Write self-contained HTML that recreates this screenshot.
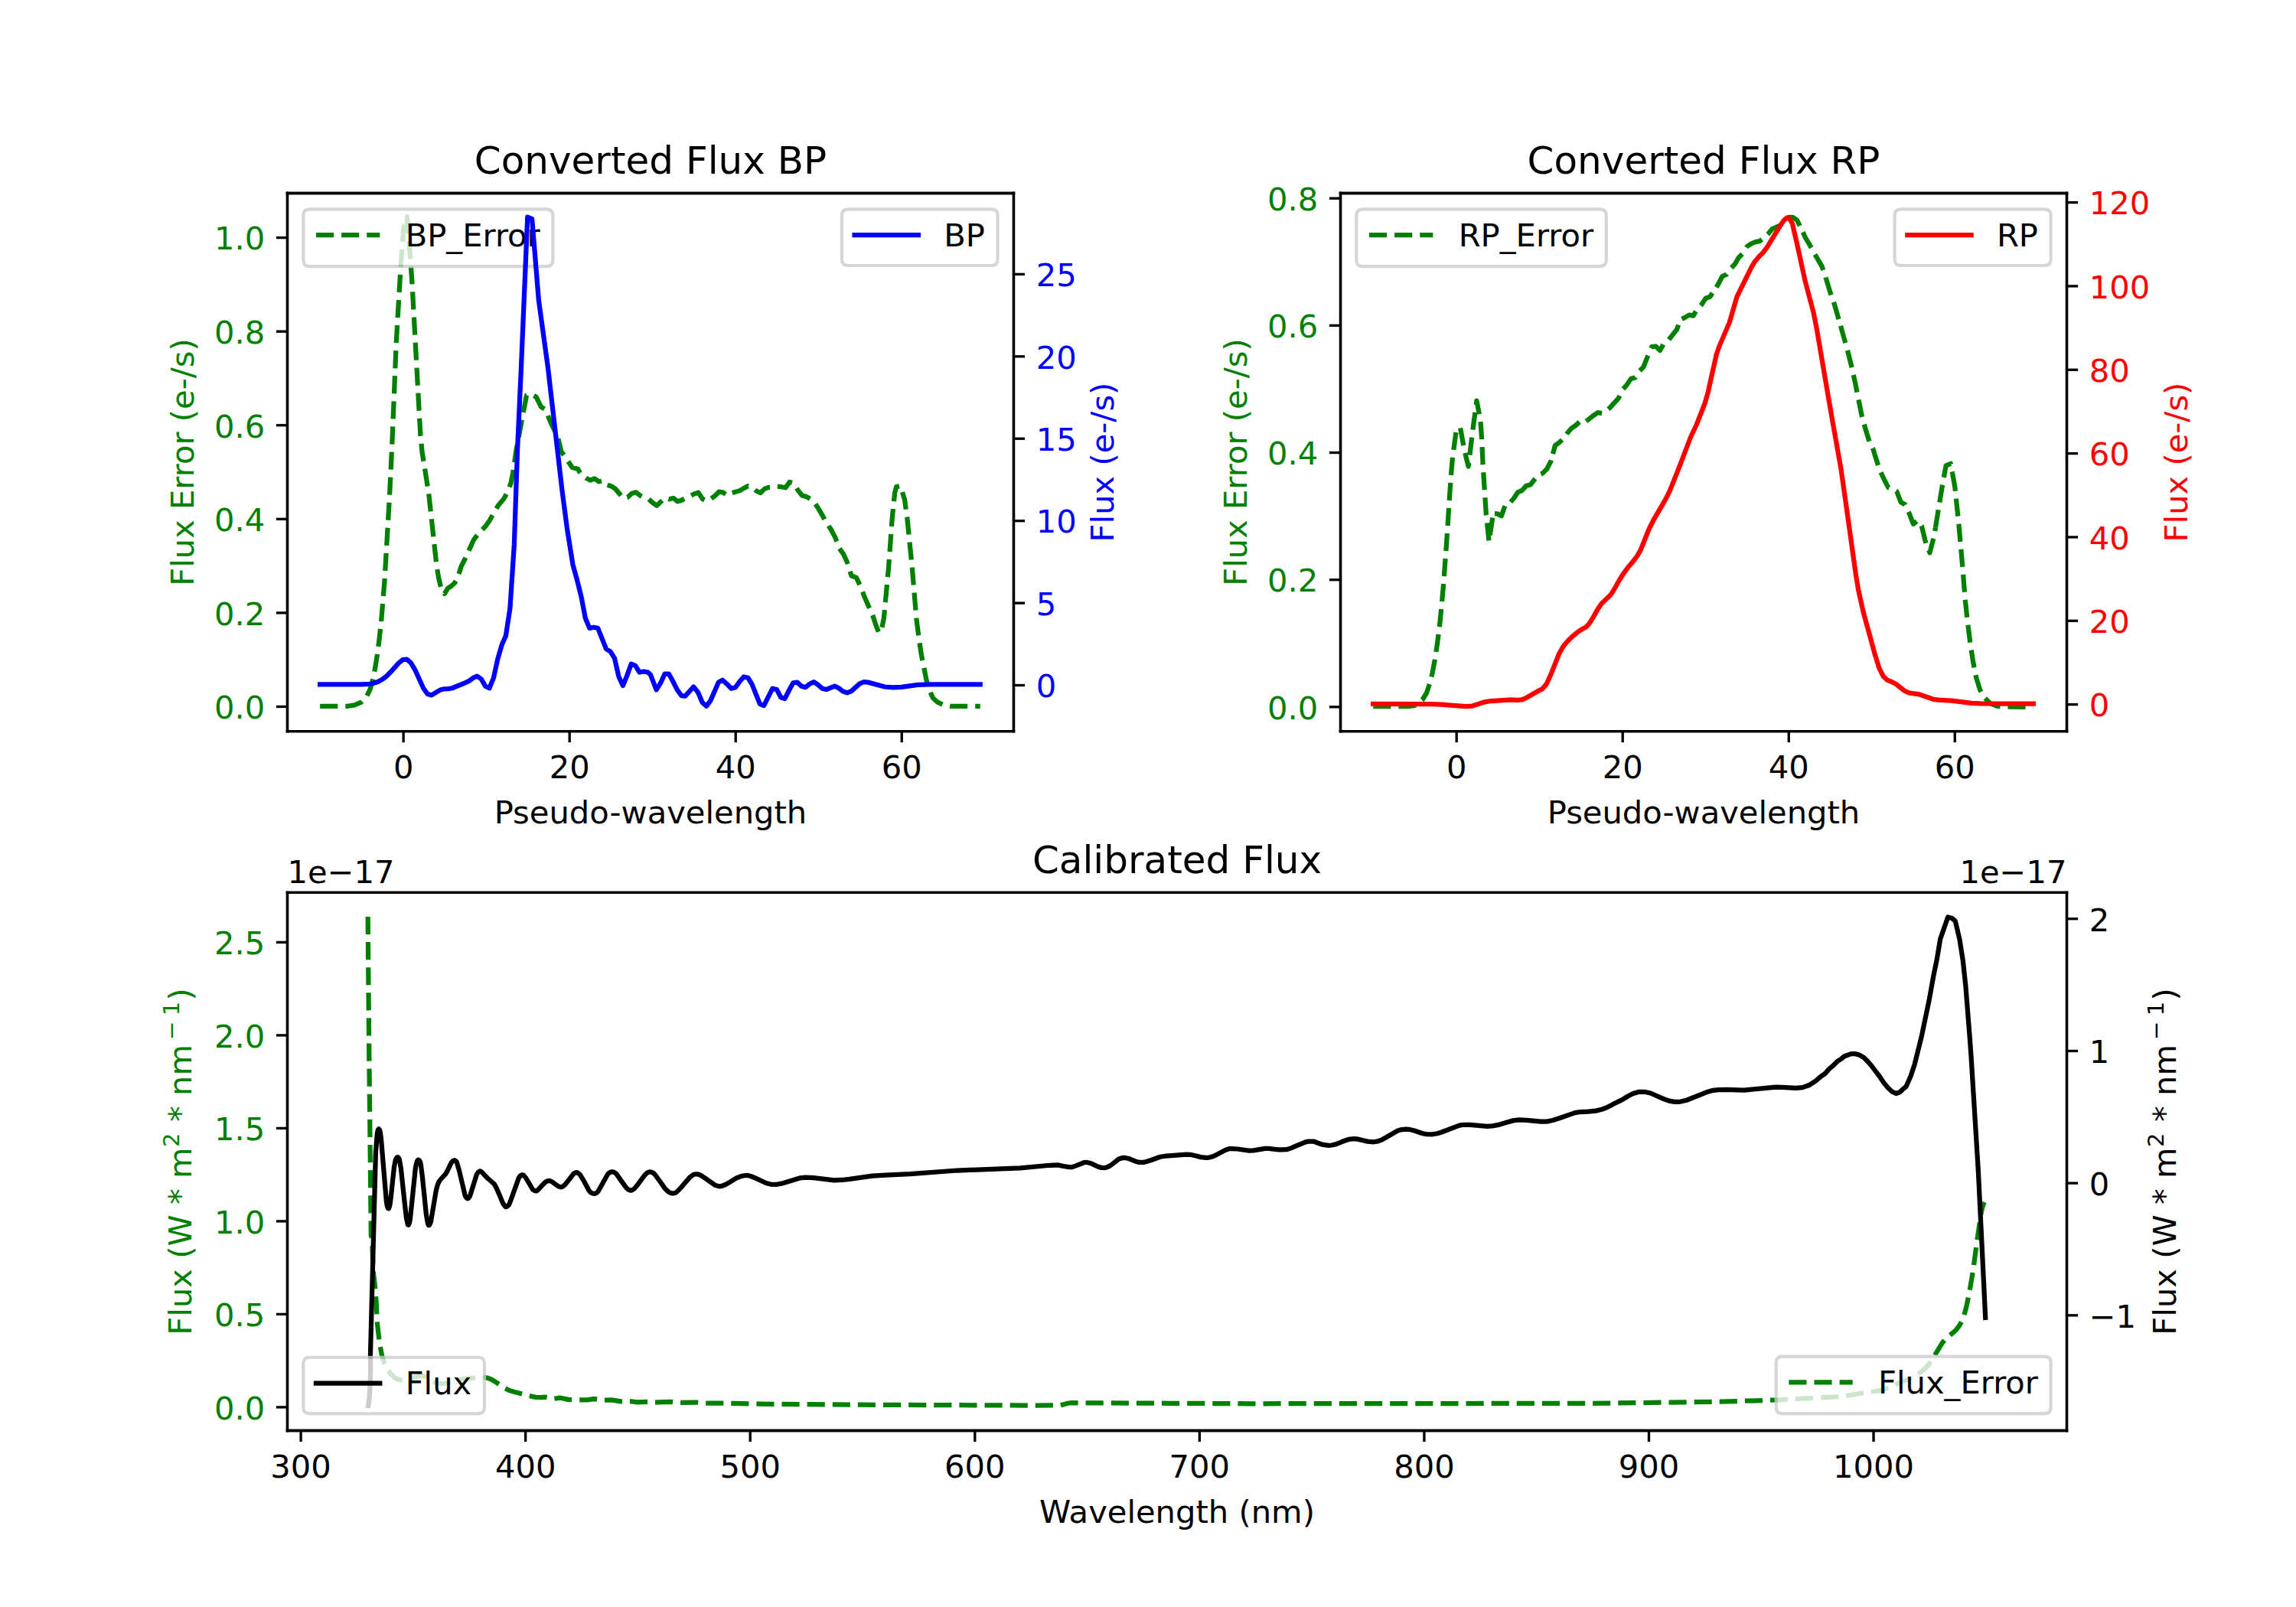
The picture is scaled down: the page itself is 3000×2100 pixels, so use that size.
<!DOCTYPE html>
<html><head><meta charset="utf-8"><title>Gaia XP spectra</title>
<style>html,body{margin:0;padding:0;background:#fff}svg{display:block}</style></head>
<body>
<svg width="3000" height="2100" viewBox="0 0 720 504"><g transform="translate(0.12 0.12)">
<defs>
<style type="text/css">*{stroke-linejoin: round; stroke-linecap: butt}</style>
</defs>
<g id="figure_1">
<g id="patch_1">
<path d="M 0 504 L 720 504 L 720 0 L 0 0 z
" style="fill: #ffffff"/>
</g>
<g id="axes_1">
<g id="patch_2">
<path d="M 90 229.210435 L 317.755102 229.210435 L 317.755102 60.48 L 90 60.48 z
" style="fill: #ffffff"/>
</g>
<g id="matplotlib.axis_1">
<g id="xtick_1">
<g id="line2d_1">
<defs>
<path id="m22d8541378" d="M 0 0 L 0 3.5 
" style="stroke: #000000; stroke-width: 0.8"/>
</defs>
<g>
<use href="#m22d8541378" x="126.396541" y="229.210435" style="stroke: #000000; stroke-width: 0.8"/>
</g>
</g>
<g id="text_1">
<text style="font-size: 10px; font-family: 'DejaVu Sans', sans-serif; text-anchor: middle" x="126.396541" y="243.978872" transform="rotate(-0 126.396541 243.978872)">0</text>
</g>
</g>
<g id="xtick_2">
<g id="line2d_2">
<g>
<use href="#m22d8541378" x="178.484615" y="229.210435" style="stroke: #000000; stroke-width: 0.8"/>
</g>
</g>
<g id="text_2">
<text style="font-size: 10px; font-family: 'DejaVu Sans', sans-serif; text-anchor: middle" x="178.484615" y="243.978872" transform="rotate(-0 178.484615 243.978872)">20</text>
</g>
</g>
<g id="xtick_3">
<g id="line2d_3">
<g>
<use href="#m22d8541378" x="230.572689" y="229.210435" style="stroke: #000000; stroke-width: 0.8"/>
</g>
</g>
<g id="text_3">
<text style="font-size: 10px; font-family: 'DejaVu Sans', sans-serif; text-anchor: middle" x="230.572689" y="243.978872" transform="rotate(-0 230.572689 243.978872)">40</text>
</g>
</g>
<g id="xtick_4">
<g id="line2d_4">
<g>
<use href="#m22d8541378" x="282.660762" y="229.210435" style="stroke: #000000; stroke-width: 0.8"/>
</g>
</g>
<g id="text_4">
<text style="font-size: 10px; font-family: 'DejaVu Sans', sans-serif; text-anchor: middle" x="282.660762" y="243.978872" transform="rotate(-0 282.660762 243.978872)">60</text>
</g>
</g>
<g id="text_5">
<text style="font-size: 10px; font-family: 'DejaVu Sans', sans-serif; text-anchor: middle" x="203.877551" y="258.156997" transform="rotate(-0 203.877551 258.156997)">Pseudo-wavelength</text>
</g>
</g>
<g id="matplotlib.axis_2">
<g id="ytick_1">
<g id="line2d_5">
<defs>
<path id="md354d0686e" d="M 0 0 L -3.5 0 
" style="stroke: #000000; stroke-width: 0.8"/>
</defs>
<g>
<use href="#md354d0686e" x="90" y="221.509046" style="stroke: #000000; stroke-width: 0.8"/>
</g>
</g>
<g id="text_6">
<text style="font-size: 10px; font-family: 'DejaVu Sans', sans-serif; text-anchor: end; fill: #008000" x="83" y="225.308264" transform="rotate(-0 83 225.308264)">0.0</text>
</g>
</g>
<g id="ytick_2">
<g id="line2d_6">
<g>
<use href="#md354d0686e" x="90" y="192.091975" style="stroke: #000000; stroke-width: 0.8"/>
</g>
</g>
<g id="text_7">
<text style="font-size: 10px; font-family: 'DejaVu Sans', sans-serif; text-anchor: end; fill: #008000" x="83" y="195.891194" transform="rotate(-0 83 195.891194)">0.2</text>
</g>
</g>
<g id="ytick_3">
<g id="line2d_7">
<g>
<use href="#md354d0686e" x="90" y="162.674904" style="stroke: #000000; stroke-width: 0.8"/>
</g>
</g>
<g id="text_8">
<text style="font-size: 10px; font-family: 'DejaVu Sans', sans-serif; text-anchor: end; fill: #008000" x="83" y="166.474123" transform="rotate(-0 83 166.474123)">0.4</text>
</g>
</g>
<g id="ytick_4">
<g id="line2d_8">
<g>
<use href="#md354d0686e" x="90" y="133.257833" style="stroke: #000000; stroke-width: 0.8"/>
</g>
</g>
<g id="text_9">
<text style="font-size: 10px; font-family: 'DejaVu Sans', sans-serif; text-anchor: end; fill: #008000" x="83" y="137.057052" transform="rotate(-0 83 137.057052)">0.6</text>
</g>
</g>
<g id="ytick_5">
<g id="line2d_9">
<g>
<use href="#md354d0686e" x="90" y="103.840762" style="stroke: #000000; stroke-width: 0.8"/>
</g>
</g>
<g id="text_10">
<text style="font-size: 10px; font-family: 'DejaVu Sans', sans-serif; text-anchor: end; fill: #008000" x="83" y="107.639981" transform="rotate(-0 83 107.639981)">0.8</text>
</g>
</g>
<g id="ytick_6">
<g id="line2d_10">
<g>
<use href="#md354d0686e" x="90" y="74.423692" style="stroke: #000000; stroke-width: 0.8"/>
</g>
</g>
<g id="text_11">
<text style="font-size: 10px; font-family: 'DejaVu Sans', sans-serif; text-anchor: end; fill: #008000" x="83" y="78.22291" transform="rotate(-0 83 78.22291)">1.0</text>
</g>
</g>
<g id="text_12">
<text style="font-size: 10px; font-family: 'DejaVu Sans', sans-serif; text-anchor: middle; fill: #008000" x="60.487187" y="144.845217" transform="rotate(-90 60.487187 144.845217)">Flux Error (e-/s)</text>
</g>
</g>
<g id="line2d_11">
<path d="M 100.238881 221.341423 L 108.9671 221.341423 L 111.057691 221.027833 L 113.148283 220.139326 L 114.716226 218.571374 L 115.866052 216.219446 L 116.545494 214.128844 L 117.329466 210.470289 L 118.113437 205.766433 L 118.79288 200.539926 L 119.420057 194.790769 L 120.465353 182.247153 L 122.033296 155.591969 L 122.817268 139.53614 L 124.123888 107.654449 L 125.535037 83.612519 L 126.475803 71.173433 L 127.521099 67.776203 L 128.200541 75.772759 L 129.089042 88.316375 L 131.702282 135.877586 L 132.22493 141.480401 L 134.315521 154.546667 L 136.824231 177.543297 L 137.451408 181.201852 L 138.23538 184.442286 L 139.280676 186.062503 L 140.325971 184.337756 L 141.371267 183.710575 L 142.416563 182.769804 L 143.357329 181.201852 L 144.507154 177.543297 L 145.813774 174.930044 L 148.427013 169.180886 L 149.994957 167.090284 L 152.085548 164.999681 L 153.392168 163.170404 L 154.960111 160.295825 L 156.266731 158.205222 L 157.834675 156.375945 L 159.141294 154.024017 L 160.08206 151.410763 L 160.709238 148.274859 L 161.754534 141.104092 L 164.99495 123.85662 L 166.19704 123.4385 L 168.026308 124.379271 L 169.594251 127.515175 L 170.900871 128.299151 L 172.730139 132.741682 L 174.82073 136.922887 L 175.866026 141.480401 L 177.433969 143.571003 L 179.263237 146.445582 L 181.092504 146.968233 L 182.1378 148.79751 L 183.69111 149.829223 L 184.997729 150.482536 L 186.304349 149.959885 L 187.610968 150.926789 L 188.891456 150.613199 L 190.198075 151.919825 L 191.504695 152.311813 L 192.811315 153.148054 L 195.398422 156.231693 L 196.705041 155.839705 L 198.011661 154.611476 L 199.318281 154.271753 L 200.6249 155.317055 L 201.93152 155.970368 L 203.238139 156.362356 L 204.518627 157.53832 L 205.825246 158.452959 L 208.438486 155.970368 L 209.745105 156.440754 L 211.025593 156.101031 L 212.332212 157.146332 L 213.638832 156.754344 L 217.558691 154.794404 L 218.86531 154.350151 L 220.17193 156.362356 L 221.452417 157.015669 L 222.759037 156.362356 L 224.065657 155.395452 L 225.372276 154.088825 L 226.678896 154.350151 L 227.959383 155.317055 L 229.266003 154.533079 L 231.879242 153.749103 L 233.185862 152.965127 L 234.492481 152.311813 L 235.772969 152.834464 L 237.079588 153.879765 L 238.386208 154.454681 L 239.692828 153.148054 L 240.999447 152.703801 L 242.284116 152.703801 L 243.590735 152.442476 L 244.897355 152.573139 L 246.203975 152.834464 L 247.484462 151.057452 L 248.791082 151.397175 L 250.097701 153.61844 L 251.404321 155.264789 L 252.71094 155.656778 L 254.01756 156.362356 L 255.298047 157.53832 L 256.604667 159.49826 L 259.217906 164.071453 L 260.524526 166.031393 L 261.831146 168.513984 L 263.111633 171.911213 L 264.418253 173.740491 L 265.552398 176.23667 L 266.859018 180.417876 L 268.426962 181.045056 L 269.733581 183.815105 L 271.040201 187.212334 L 273.65344 193.222817 L 274.698736 196.358721 L 275.482708 198.344794 L 276.266679 197.665348 L 277.050651 193.745468 L 278.514065 178.065948 L 279.663891 162.386428 L 280.447862 154.546667 L 280.97051 152.560595 L 282.27713 152.29927 L 283.583749 156.63727 L 284.367721 162.386428 L 285.935665 178.065948 L 287.242285 193.745468 L 288.026256 200.017276 L 288.810228 205.243782 L 290.378172 213.083542 L 291.266673 216.219446 L 292.468763 218.8327 L 293.775383 220.034796 L 295.865974 221.027833 L 297.956566 221.341423 L 300.569805 221.393688 L 307.259697 221.393688 L 307.259697 221.393688 
" clip-path="url(#p5c25ae56bd)" style="fill: none; stroke-dasharray: 5.55,2.4; stroke-dashoffset: 0; stroke: #008000; stroke-width: 1.5"/>
</g>
<g id="patch_3">
<path d="M 90 229.210435 L 90 60.48 
" style="fill: none; stroke: #000000; stroke-width: 0.8; stroke-linejoin: miter; stroke-linecap: square"/>
</g>
<g id="patch_4">
<path d="M 317.755102 229.210435 L 317.755102 60.48 
" style="fill: none; stroke: #000000; stroke-width: 0.8; stroke-linejoin: miter; stroke-linecap: square"/>
</g>
<g id="patch_5">
<path d="M 90 229.210435 L 317.755102 229.210435 
" style="fill: none; stroke: #000000; stroke-width: 0.8; stroke-linejoin: miter; stroke-linecap: square"/>
</g>
<g id="patch_6">
<path d="M 90 60.48 L 317.755102 60.48 
" style="fill: none; stroke: #000000; stroke-width: 0.8; stroke-linejoin: miter; stroke-linecap: square"/>
</g>
<g id="text_13">
<text style="font-size: 12px; font-family: 'DejaVu Sans', sans-serif; text-anchor: middle" x="203.877551" y="54.48" transform="rotate(-0 203.877551 54.48)">Converted Flux BP</text>
</g>
<g id="legend_1">
<g id="patch_7">
<path d="M 97 83.43625 L 171.260938 83.43625 Q 173.260938 83.43625 173.260938 81.43625 L 173.260938 67.48 Q 173.260938 65.48 171.260938 65.48 L 97 65.48 Q 95 65.48 95 67.48 L 95 81.43625 Q 95 83.43625 97 83.43625 z
" style="fill: #ffffff; opacity: 0.8; stroke: #cccccc; stroke-linejoin: miter"/>
</g>
<g id="line2d_12">
<path d="M 99 73.578438 L 109 73.578438 L 119 73.578438 
" style="fill: none; stroke-dasharray: 5.55,2.4; stroke-dashoffset: 0; stroke: #008000; stroke-width: 1.5"/>
</g>
<g id="text_14">
<text style="font-size: 10px; font-family: 'DejaVu Sans', sans-serif; text-anchor: start" x="127" y="77.078438" transform="rotate(-0 127 77.078438)">BP_Error</text>
</g>
</g>
</g>
<g id="axes_2">
<g id="matplotlib.axis_3">
<g id="ytick_7">
<g id="line2d_13">
<defs>
<path id="m59909c4edb" d="M 0 0 L 3.5 0 
" style="stroke: #000000; stroke-width: 0.8"/>
</defs>
<g>
<use href="#m59909c4edb" x="317.755102" y="214.803662" style="stroke: #000000; stroke-width: 0.8"/>
</g>
</g>
<g id="text_15">
<text style="font-size: 10px; font-family: 'DejaVu Sans', sans-serif; text-anchor: start; fill: #0000ff" x="324.755102" y="218.60288" transform="rotate(-0 324.755102 218.60288)">0</text>
</g>
</g>
<g id="ytick_8">
<g id="line2d_14">
<g>
<use href="#m59909c4edb" x="317.755102" y="189.022035" style="stroke: #000000; stroke-width: 0.8"/>
</g>
</g>
<g id="text_16">
<text style="font-size: 10px; font-family: 'DejaVu Sans', sans-serif; text-anchor: start; fill: #0000ff" x="324.755102" y="192.821254" transform="rotate(-0 324.755102 192.821254)">5</text>
</g>
</g>
<g id="ytick_9">
<g id="line2d_15">
<g>
<use href="#m59909c4edb" x="317.755102" y="163.240408" style="stroke: #000000; stroke-width: 0.8"/>
</g>
</g>
<g id="text_17">
<text style="font-size: 10px; font-family: 'DejaVu Sans', sans-serif; text-anchor: start; fill: #0000ff" x="324.755102" y="167.039627" transform="rotate(-0 324.755102 167.039627)">10</text>
</g>
</g>
<g id="ytick_10">
<g id="line2d_16">
<g>
<use href="#m59909c4edb" x="317.755102" y="137.458781" style="stroke: #000000; stroke-width: 0.8"/>
</g>
</g>
<g id="text_18">
<text style="font-size: 10px; font-family: 'DejaVu Sans', sans-serif; text-anchor: start; fill: #0000ff" x="324.755102" y="141.258" transform="rotate(-0 324.755102 141.258)">15</text>
</g>
</g>
<g id="ytick_11">
<g id="line2d_17">
<g>
<use href="#m59909c4edb" x="317.755102" y="111.677155" style="stroke: #000000; stroke-width: 0.8"/>
</g>
</g>
<g id="text_19">
<text style="font-size: 10px; font-family: 'DejaVu Sans', sans-serif; text-anchor: start; fill: #0000ff" x="324.755102" y="115.476373" transform="rotate(-0 324.755102 115.476373)">20</text>
</g>
</g>
<g id="ytick_12">
<g id="line2d_18">
<g>
<use href="#m59909c4edb" x="317.755102" y="85.895528" style="stroke: #000000; stroke-width: 0.8"/>
</g>
</g>
<g id="text_20">
<text style="font-size: 10px; font-family: 'DejaVu Sans', sans-serif; text-anchor: start; fill: #0000ff" x="324.755102" y="89.694746" transform="rotate(-0 324.755102 89.694746)">25</text>
</g>
</g>
<g id="text_21">
<text style="font-size: 10px; font-family: 'DejaVu Sans', sans-serif; text-anchor: middle; fill: #0000ff" x="349.07854" y="144.845217" transform="rotate(-90 349.07854 144.845217)">Flux (e-/s)</text>
</g>
</g>
<g id="line2d_19">
<path d="M 100.238881 214.546964 L 113.200548 214.546964 L 115.761522 214.390169 L 117.068142 214.128844 L 118.374761 213.710723 L 119.681381 212.979012 L 120.988001 212.038241 L 122.29462 210.731614 L 124.855595 207.857036 L 126.162214 206.811734 L 127.468834 206.654939 L 128.723189 207.752506 L 130.029809 209.947638 L 132.643048 215.696796 L 133.949668 217.526073 L 135.204022 217.891929 L 137.817262 216.323977 L 139.123881 215.958121 L 140.378236 215.905856 L 141.684856 215.696796 L 145.55245 214.128844 L 146.85907 213.501663 L 148.165689 212.560892 L 149.472309 211.933711 L 150.778929 212.822217 L 152.085548 215.069615 L 153.339903 215.696796 L 154.646523 212.560892 L 155.953142 206.550409 L 157.259762 202.107878 L 158.514117 199.2333 L 159.820737 190.609564 L 161.127356 170.748838 L 162.120387 141.480401 L 163.322477 114.971559 L 165.308539 67.932999 L 166.719688 68.560179 L 168.81028 94.065532 L 171.684843 114.971559 L 176.12735 153.501366 L 177.695293 165.522332 L 179.524561 177.020646 L 180.83118 181.724502 L 182.1378 186.951009 L 183.44442 193.745468 L 184.751039 196.881372 L 186.057659 196.620046 L 187.364279 196.881372 L 189.977518 203.414505 L 191.284138 204.198481 L 192.590757 206.289084 L 193.897377 212.038241 L 195.203997 214.91282 L 196.510616 211.776916 L 197.817236 208.118361 L 199.123856 208.641012 L 200.430475 210.731614 L 201.737095 210.470289 L 203.043714 210.731614 L 203.879951 211.51559 L 205.709219 216.219446 L 207.015838 214.128844 L 208.322458 211.254265 L 209.629077 211.254265 L 210.935697 213.606193 L 212.242317 216.219446 L 213.548936 218.048724 L 214.751026 218.205519 L 217.364266 215.278675 L 218.775415 217.003422 L 220.082035 220.139326 L 221.388654 221.341423 L 222.695274 219.616676 L 225.203984 213.867518 L 226.458339 213.188073 L 227.817223 214.390169 L 229.228372 215.801326 L 230.534992 215.43547 L 231.841611 213.606193 L 233.148231 212.142771 L 234.454851 212.456362 L 235.656941 214.390169 L 238.165651 220.661977 L 239.420005 221.184628 L 242.137774 215.801326 L 243.444394 216.114916 L 244.751014 218.571374 L 246.005368 218.989495 L 247.259723 216.480772 L 248.618608 214.024314 L 249.872963 213.867518 L 251.179582 215.069615 L 252.486202 215.43547 L 253.792822 214.390169 L 255.099441 213.762988 L 256.406061 214.651494 L 257.71268 215.801326 L 259.0193 216.114916 L 261.632539 215.069615 L 262.939159 215.696796 L 264.245779 216.742097 L 265.552398 217.160218 L 266.859018 216.637567 L 269.472257 214.285639 L 270.778877 213.762988 L 272.085497 213.867518 L 277.311975 215.278675 L 279.925214 215.487736 L 282.538454 215.383205 L 287.764932 214.651494 L 291.684791 214.546964 L 307.259697 214.546964 L 307.259697 214.546964 
" clip-path="url(#p5c25ae56bd)" style="fill: none; stroke: #0000ff; stroke-width: 1.5; stroke-linecap: square"/>
</g>
<g id="patch_8">
<path d="M 90 229.210435 L 90 60.48 
" style="fill: none; stroke: #000000; stroke-width: 0.8; stroke-linejoin: miter; stroke-linecap: square"/>
</g>
<g id="patch_9">
<path d="M 317.755102 229.210435 L 317.755102 60.48 
" style="fill: none; stroke: #000000; stroke-width: 0.8; stroke-linejoin: miter; stroke-linecap: square"/>
</g>
<g id="patch_10">
<path d="M 90 229.210435 L 317.755102 229.210435 
" style="fill: none; stroke: #000000; stroke-width: 0.8; stroke-linejoin: miter; stroke-linecap: square"/>
</g>
<g id="patch_11">
<path d="M 90 60.48 L 317.755102 60.48 
" style="fill: none; stroke: #000000; stroke-width: 0.8; stroke-linejoin: miter; stroke-linecap: square"/>
</g>
<g id="legend_2">
<g id="patch_12">
<path d="M 265.864477 83.158125 L 310.755102 83.158125 Q 312.755102 83.158125 312.755102 81.158125 L 312.755102 67.48 Q 312.755102 65.48 310.755102 65.48 L 265.864477 65.48 Q 263.864477 65.48 263.864477 67.48 L 263.864477 81.158125 Q 263.864477 83.158125 265.864477 83.158125 z
" style="fill: #ffffff; opacity: 0.8; stroke: #cccccc; stroke-linejoin: miter"/>
</g>
<g id="line2d_20">
<path d="M 267.864477 73.578438 L 277.864477 73.578438 L 287.864477 73.578438 
" style="fill: none; stroke: #0000ff; stroke-width: 1.5; stroke-linecap: square"/>
</g>
<g id="text_22">
<text style="font-size: 10px; font-family: 'DejaVu Sans', sans-serif; text-anchor: start" x="295.864477" y="77.078438" transform="rotate(-0 295.864477 77.078438)">BP</text>
</g>
</g>
</g>
<g id="axes_3">
<g id="patch_13">
<path d="M 420.244898 229.210435 L 648 229.210435 L 648 60.48 L 420.244898 60.48 z
" style="fill: #ffffff"/>
</g>
<g id="matplotlib.axis_4">
<g id="xtick_5">
<g id="line2d_21">
<g>
<use href="#m22d8541378" x="456.641439" y="229.210435" style="stroke: #000000; stroke-width: 0.8"/>
</g>
</g>
<g id="text_23">
<text style="font-size: 10px; font-family: 'DejaVu Sans', sans-serif; text-anchor: middle" x="456.641439" y="243.978872" transform="rotate(-0 456.641439 243.978872)">0</text>
</g>
</g>
<g id="xtick_6">
<g id="line2d_22">
<g>
<use href="#m22d8541378" x="508.729513" y="229.210435" style="stroke: #000000; stroke-width: 0.8"/>
</g>
</g>
<g id="text_24">
<text style="font-size: 10px; font-family: 'DejaVu Sans', sans-serif; text-anchor: middle" x="508.729513" y="243.978872" transform="rotate(-0 508.729513 243.978872)">20</text>
</g>
</g>
<g id="xtick_7">
<g id="line2d_23">
<g>
<use href="#m22d8541378" x="560.817587" y="229.210435" style="stroke: #000000; stroke-width: 0.8"/>
</g>
</g>
<g id="text_25">
<text style="font-size: 10px; font-family: 'DejaVu Sans', sans-serif; text-anchor: middle" x="560.817587" y="243.978872" transform="rotate(-0 560.817587 243.978872)">40</text>
</g>
</g>
<g id="xtick_8">
<g id="line2d_24">
<g>
<use href="#m22d8541378" x="612.90566" y="229.210435" style="stroke: #000000; stroke-width: 0.8"/>
</g>
</g>
<g id="text_26">
<text style="font-size: 10px; font-family: 'DejaVu Sans', sans-serif; text-anchor: middle" x="612.90566" y="243.978872" transform="rotate(-0 612.90566 243.978872)">60</text>
</g>
</g>
<g id="text_27">
<text style="font-size: 10px; font-family: 'DejaVu Sans', sans-serif; text-anchor: middle" x="534.122449" y="258.156997" transform="rotate(-0 534.122449 258.156997)">Pseudo-wavelength</text>
</g>
</g>
<g id="matplotlib.axis_5">
<g id="ytick_13">
<g id="line2d_25">
<g>
<use href="#md354d0686e" x="420.244898" y="221.594068" style="stroke: #000000; stroke-width: 0.8"/>
</g>
</g>
<g id="text_28">
<text style="font-size: 10px; font-family: 'DejaVu Sans', sans-serif; text-anchor: end; fill: #008000" x="413.244898" y="225.393287" transform="rotate(-0 413.244898 225.393287)">0.0</text>
</g>
</g>
<g id="ytick_14">
<g id="line2d_26">
<g>
<use href="#md354d0686e" x="420.244898" y="181.717803" style="stroke: #000000; stroke-width: 0.8"/>
</g>
</g>
<g id="text_29">
<text style="font-size: 10px; font-family: 'DejaVu Sans', sans-serif; text-anchor: end; fill: #008000" x="413.244898" y="185.517022" transform="rotate(-0 413.244898 185.517022)">0.2</text>
</g>
</g>
<g id="ytick_15">
<g id="line2d_27">
<g>
<use href="#md354d0686e" x="420.244898" y="141.841538" style="stroke: #000000; stroke-width: 0.8"/>
</g>
</g>
<g id="text_30">
<text style="font-size: 10px; font-family: 'DejaVu Sans', sans-serif; text-anchor: end; fill: #008000" x="413.244898" y="145.640756" transform="rotate(-0 413.244898 145.640756)">0.4</text>
</g>
</g>
<g id="ytick_16">
<g id="line2d_28">
<g>
<use href="#md354d0686e" x="420.244898" y="101.965273" style="stroke: #000000; stroke-width: 0.8"/>
</g>
</g>
<g id="text_31">
<text style="font-size: 10px; font-family: 'DejaVu Sans', sans-serif; text-anchor: end; fill: #008000" x="413.244898" y="105.764491" transform="rotate(-0 413.244898 105.764491)">0.6</text>
</g>
</g>
<g id="ytick_17">
<g id="line2d_29">
<g>
<use href="#md354d0686e" x="420.244898" y="62.089007" style="stroke: #000000; stroke-width: 0.8"/>
</g>
</g>
<g id="text_32">
<text style="font-size: 10px; font-family: 'DejaVu Sans', sans-serif; text-anchor: end; fill: #008000" x="413.244898" y="65.888226" transform="rotate(-0 413.244898 65.888226)">0.8</text>
</g>
</g>
<g id="text_33">
<text style="font-size: 10px; font-family: 'DejaVu Sans', sans-serif; text-anchor: middle; fill: #008000" x="390.732085" y="144.845217" transform="rotate(-90 390.732085 144.845217)">Flux Error (e-/s)</text>
</g>
</g>
<g id="line2d_30">
<path d="M 430.497983 221.445953 L 441.212275 221.445953 L 443.302869 221.184628 L 444.348166 220.661977 L 445.916111 219.35535 L 447.222732 217.264748 L 448.268029 214.128844 L 449.052001 210.99294 L 449.835974 206.811734 L 450.619947 201.585228 L 451.29939 196.358721 L 451.926568 190.086913 L 452.449216 184.337756 L 452.9196 178.065948 L 453.389983 171.79414 L 453.808102 165.522332 L 454.173956 159.773174 L 454.592075 153.501366 L 455.010193 147.752209 L 455.428312 143.048353 L 456.464685 135.486121 L 457.778855 133.843402 L 459.06017 140.907092 L 460.341485 146.163791 L 461.655654 135.321849 L 462.936969 125.5641 L 463.692616 129.408062 L 464.251138 133.022043 L 464.513972 137.293111 L 464.908223 145.506704 L 465.401036 153.391753 L 465.926704 161.276803 L 466.386663 165.547871 L 466.813768 169.753231 L 467.470853 165.383599 L 468.127937 160.948259 L 468.605209 160.972734 
" clip-path="url(#pb873f80240)" style="fill: none; stroke-dasharray: 5.55,2.4; stroke-dashoffset: 0; stroke: #008000; stroke-width: 1.5"/>
</g>
<g id="line2d_31">
<path d="M 468.605209 160.972734 L 469.409252 161.013968 L 470.723421 161.671055 L 472.004736 157.991365 L 473.286051 157.662822 L 474.60022 156.184375 L 475.881535 154.213113 L 477.16285 153.720297 L 477.302705 153.56296 
" clip-path="url(#pb873f80240)" style="fill: none; stroke-dasharray: 5.55,2.4; stroke-dashoffset: 0; stroke: #008000; stroke-width: 1.5"/>
</g>
<g id="line2d_32">
<path d="M 477.302705 153.56296 L 478.47702 152.24185 L 479.791189 151.913307 L 481.072504 150.270588 L 482.353819 148.792141 L 483.667988 148.299326 L 484.949303 146.985151 L 486.230618 144.521073 L 486.844444 142.219216 
" clip-path="url(#pb873f80240)" style="fill: none; stroke-dasharray: 5.55,2.4; stroke-dashoffset: 0; stroke: #008000; stroke-width: 1.5"/>
</g>
<g id="line2d_33">
<path d="M 486.844444 142.219216 L 487.544787 139.592917 L 488.826102 138.672995 L 490.140271 137.457383 L 491.168416 136.007429 
" clip-path="url(#pb873f80240)" style="fill: none; stroke-dasharray: 5.55,2.4; stroke-dashoffset: 0; stroke: #008000; stroke-width: 1.5"/>
</g>
<g id="line2d_34">
<path d="M 491.168416 136.007429 L 491.421586 135.650392 L 492.702901 134.171946 L 494.01707 133.284878 L 495.703598 131.716241 L 497.010219 132.160494 L 497.500495 131.797689 
" clip-path="url(#pb873f80240)" style="fill: none; stroke-dasharray: 5.55,2.4; stroke-dashoffset: 0; stroke: #008000; stroke-width: 1.5"/>
</g>
<g id="line2d_35">
<path d="M 497.500495 131.797689 L 498.31684 131.19359 L 499.623461 130.148289 L 500.930082 129.285915 L 502.210571 129.494976 L 503.517192 128.711 L 504.823813 127.665698 L 506.130434 126.228409 L 507.437055 124.79112 L 508.717544 122.047204 L 508.933091 121.810101 
" clip-path="url(#pb873f80240)" style="fill: none; stroke-dasharray: 5.55,2.4; stroke-dashoffset: 0; stroke: #008000; stroke-width: 1.5"/>
</g>
<g id="line2d_36">
<path d="M 508.933091 121.810101 L 510.024165 120.609914 L 511.330786 118.649974 L 512.637407 118.336384 L 513.944028 116.298046 L 515.250649 114.99142 L 516.531138 111.724853 L 517.701321 108.963207 
" clip-path="url(#pb873f80240)" style="fill: none; stroke-dasharray: 5.55,2.4; stroke-dashoffset: 0; stroke: #008000; stroke-width: 1.5"/>
</g>
<g id="line2d_37">
<path d="M 517.701321 108.963207 L 517.837759 108.641214 L 519.14438 108.536684 L 520.451001 109.764913 L 521.757622 107.412985 L 523.064243 106.629009 L 524.370864 104.930394 L 525.651352 103.310177 L 526.957973 100.095875 L 527.298606 99.925558 
" clip-path="url(#pb873f80240)" style="fill: none; stroke-dasharray: 5.55,2.4; stroke-dashoffset: 0; stroke: #008000; stroke-width: 1.5"/>
</g>
<g id="line2d_38">
<path d="M 527.298606 99.925558 L 528.264594 99.442562 L 529.571215 98.658586 L 530.877836 98.919911 L 532.158325 96.698646 L 533.464946 95.392019 L 534.771567 93.432079 L 536.078188 92.961694 L 537.383764 91.126145 L 538.098751 89.972934 
" clip-path="url(#pb873f80240)" style="fill: none; stroke-dasharray: 5.55,2.4; stroke-dashoffset: 0; stroke: #008000; stroke-width: 1.5"/>
</g>
<g id="line2d_39">
<path d="M 538.098751 89.972934 L 538.679932 89.035542 L 539.9761 86.526819 L 541.293174 85.962356 L 542.589342 84.122626 L 543.88551 82.763734 L 545.181678 80.568601 L 546.498752 79.31424 L 547.605449 77.439986 
" clip-path="url(#pb873f80240)" style="fill: none; stroke-dasharray: 5.55,2.4; stroke-dashoffset: 0; stroke: #008000; stroke-width: 1.5"/>
</g>
<g id="line2d_40">
<path d="M 547.605449 77.439986 L 547.79492 77.119107 L 549.091088 76.282866 L 550.408162 75.760215 L 551.70433 75.509343 L 553.000498 74.505853 L 554.317572 73.251492 L 555.61374 71.68354 L 556.909908 71.119077 L 558.206076 70.533708 L 559.52315 69.174817 L 560.819318 68.024985 L 562.115487 68.024985 L 563.43256 68.965756 L 564.728729 71.57901 L 565.243565 72.700029 
" clip-path="url(#pb873f80240)" style="fill: none; stroke-dasharray: 5.55,2.4; stroke-dashoffset: 0; stroke: #008000; stroke-width: 1.5"/>
</g>
<g id="line2d_41">
<path d="M 565.243565 72.700029 L 566.024897 74.401323 L 567.341971 76.596456 L 568.638139 79.000649 L 569.934307 81.195782 L 571.251381 83.495445 L 572.45699 87.092843 
" clip-path="url(#pb873f80240)" style="fill: none; stroke-dasharray: 5.55,2.4; stroke-dashoffset: 0; stroke: #008000; stroke-width: 1.5"/>
</g>
<g id="line2d_42">
<path d="M 572.45699 87.092843 L 572.547549 87.36306 L 573.843717 91.648795 L 575.160791 95.41188 L 576.891802 101.382641 L 577.089637 102.09485 
" clip-path="url(#pb873f80240)" style="fill: none; stroke-dasharray: 5.55,2.4; stroke-dashoffset: 0; stroke: #008000; stroke-width: 1.5"/>
</g>
<g id="line2d_43">
<path d="M 577.089637 102.09485 L 578.198423 106.086497 L 579.505044 110.790353 L 580.550341 114.971559 L 581.595638 119.675415 L 582.640935 124.901922 L 582.706589 125.230194 
" clip-path="url(#pb873f80240)" style="fill: none; stroke-dasharray: 5.55,2.4; stroke-dashoffset: 0; stroke: #008000; stroke-width: 1.5"/>
</g>
<g id="line2d_44">
<path d="M 582.706589 125.230194 L 583.686232 130.128428 L 584.992853 134.832284 L 586.299474 139.01349 L 587.177523 140.485274 L 587.181222 140.497243 
" clip-path="url(#pb873f80240)" style="fill: none; stroke-dasharray: 5.55,2.4; stroke-dashoffset: 0; stroke: #008000; stroke-width: 1.5"/>
</g>
<g id="line2d_45">
<path d="M 587.181222 140.497243 L 588.172646 143.704802 L 589.460451 147.568236 L 590.777525 150.348737 L 592.065331 152.836554 L 593.382405 153.187776 L 594.421967 153.849318 
" clip-path="url(#pb873f80240)" style="fill: none; stroke-dasharray: 5.55,2.4; stroke-dashoffset: 0; stroke: #008000; stroke-width: 1.5"/>
</g>
<g id="line2d_46">
<path d="M 594.421967 153.849318 L 594.670211 154.007292 L 595.958016 157.373162 L 597.27509 158.104873 L 598.592164 160.885375 L 599.87997 164.251245 L 601.167776 163.139044 L 602.469008 164.816195 
" clip-path="url(#pb873f80240)" style="fill: none; stroke-dasharray: 5.55,2.4; stroke-dashoffset: 0; stroke: #008000; stroke-width: 1.5"/>
</g>
<g id="line2d_47">
<path d="M 602.469008 164.816195 L 602.48485 164.836614 L 603.801924 170.251275 L 605.031193 173.265924 L 606.406803 167.9098 L 606.836697 165.271807 
" clip-path="url(#pb873f80240)" style="fill: none; stroke-dasharray: 5.55,2.4; stroke-dashoffset: 0; stroke: #008000; stroke-width: 1.5"/>
</g>
<g id="line2d_48">
<path d="M 606.836697 165.271807 L 607.694609 160.007322 L 609.011683 151.958501 L 609.44131 149.618155 
" clip-path="url(#pb873f80240)" style="fill: none; stroke-dasharray: 5.55,2.4; stroke-dashoffset: 0; stroke: #008000; stroke-width: 1.5"/>
</g>
<g id="line2d_49">
<path d="M 609.44131 149.618155 L 610.123879 145.899935 L 611.616563 145.285298 L 612.172425 148.418356 
" clip-path="url(#pb873f80240)" style="fill: none; stroke-dasharray: 5.55,2.4; stroke-dashoffset: 0; stroke: #008000; stroke-width: 1.5"/>
</g>
<g id="line2d_50">
<path d="M 612.172425 148.418356 L 612.904368 152.54387 L 614.130149 164.244553 
" clip-path="url(#pb873f80240)" style="fill: none; stroke-dasharray: 5.55,2.4; stroke-dashoffset: 0; stroke: #008000; stroke-width: 1.5"/>
</g>
<g id="line2d_51">
<path d="M 614.130149 164.244553 L 614.192174 164.836614 L 615.509248 179.909859 L 615.518855 180.047554 
" clip-path="url(#pb873f80240)" style="fill: none; stroke-dasharray: 5.55,2.4; stroke-dashoffset: 0; stroke: #008000; stroke-width: 1.5"/>
</g>
<g id="line2d_52">
<path d="M 615.518855 180.047554 L 615.672314 182.247153 L 616.194963 188.518961 L 616.874406 194.790769 L 617.658378 201.062577 L 618.599145 207.334385 L 619.644442 212.560892 L 620.794269 216.219446 L 622.10089 218.571374 L 623.930159 220.400652 L 626.020753 221.341423 L 629.156643 221.550483 L 637.519018 221.602748 
" clip-path="url(#pb873f80240)" style="fill: none; stroke-dasharray: 5.55,2.4; stroke-dashoffset: 0; stroke: #008000; stroke-width: 1.5"/>
</g>
<g id="patch_14">
<path d="M 420.244898 229.210435 L 420.244898 60.48 
" style="fill: none; stroke: #000000; stroke-width: 0.8; stroke-linejoin: miter; stroke-linecap: square"/>
</g>
<g id="patch_15">
<path d="M 648 229.210435 L 648 60.48 
" style="fill: none; stroke: #000000; stroke-width: 0.8; stroke-linejoin: miter; stroke-linecap: square"/>
</g>
<g id="patch_16">
<path d="M 420.244898 229.210435 L 648 229.210435 
" style="fill: none; stroke: #000000; stroke-width: 0.8; stroke-linejoin: miter; stroke-linecap: square"/>
</g>
<g id="patch_17">
<path d="M 420.244898 60.48 L 648 60.48 
" style="fill: none; stroke: #000000; stroke-width: 0.8; stroke-linejoin: miter; stroke-linecap: square"/>
</g>
<g id="text_34">
<text style="font-size: 12px; font-family: 'DejaVu Sans', sans-serif; text-anchor: middle" x="534.122449" y="54.48" transform="rotate(-0 534.122449 54.48)">Converted Flux RP</text>
</g>
<g id="legend_3">
<g id="patch_18">
<path d="M 427.244898 83.43625 L 501.593335 83.43625 Q 503.593335 83.43625 503.593335 81.43625 L 503.593335 67.48 Q 503.593335 65.48 501.593335 65.48 L 427.244898 65.48 Q 425.244898 65.48 425.244898 67.48 L 425.244898 81.43625 Q 425.244898 83.43625 427.244898 83.43625 z
" style="fill: #ffffff; opacity: 0.8; stroke: #cccccc; stroke-linejoin: miter"/>
</g>
<g id="line2d_53">
<path d="M 429.244898 73.578438 L 439.244898 73.578438 L 449.244898 73.578438 
" style="fill: none; stroke-dasharray: 5.55,2.4; stroke-dashoffset: 0; stroke: #008000; stroke-width: 1.5"/>
</g>
<g id="text_35">
<text style="font-size: 10px; font-family: 'DejaVu Sans', sans-serif; text-anchor: start" x="457.244898" y="77.078438" transform="rotate(-0 457.244898 77.078438)">RP_Error</text>
</g>
</g>
</g>
<g id="axes_4">
<g id="matplotlib.axis_6">
<g id="ytick_18">
<g id="line2d_54">
<g>
<use href="#m59909c4edb" x="648" y="220.826395" style="stroke: #000000; stroke-width: 0.8"/>
</g>
</g>
<g id="text_36">
<text style="font-size: 10px; font-family: 'DejaVu Sans', sans-serif; text-anchor: start; fill: #ff0000" x="655" y="224.625614" transform="rotate(-0 655 224.625614)">0</text>
</g>
</g>
<g id="ytick_19">
<g id="line2d_55">
<g>
<use href="#m59909c4edb" x="648" y="194.58527" style="stroke: #000000; stroke-width: 0.8"/>
</g>
</g>
<g id="text_37">
<text style="font-size: 10px; font-family: 'DejaVu Sans', sans-serif; text-anchor: start; fill: #ff0000" x="655" y="198.384489" transform="rotate(-0 655 198.384489)">20</text>
</g>
</g>
<g id="ytick_20">
<g id="line2d_56">
<g>
<use href="#m59909c4edb" x="648" y="168.344145" style="stroke: #000000; stroke-width: 0.8"/>
</g>
</g>
<g id="text_38">
<text style="font-size: 10px; font-family: 'DejaVu Sans', sans-serif; text-anchor: start; fill: #ff0000" x="655" y="172.143364" transform="rotate(-0 655 172.143364)">40</text>
</g>
</g>
<g id="ytick_21">
<g id="line2d_57">
<g>
<use href="#m59909c4edb" x="648" y="142.10302" style="stroke: #000000; stroke-width: 0.8"/>
</g>
</g>
<g id="text_39">
<text style="font-size: 10px; font-family: 'DejaVu Sans', sans-serif; text-anchor: start; fill: #ff0000" x="655" y="145.902239" transform="rotate(-0 655 145.902239)">60</text>
</g>
</g>
<g id="ytick_22">
<g id="line2d_58">
<g>
<use href="#m59909c4edb" x="648" y="115.861895" style="stroke: #000000; stroke-width: 0.8"/>
</g>
</g>
<g id="text_40">
<text style="font-size: 10px; font-family: 'DejaVu Sans', sans-serif; text-anchor: start; fill: #ff0000" x="655" y="119.661113" transform="rotate(-0 655 119.661113)">80</text>
</g>
</g>
<g id="ytick_23">
<g id="line2d_59">
<g>
<use href="#m59909c4edb" x="648" y="89.620769" style="stroke: #000000; stroke-width: 0.8"/>
</g>
</g>
<g id="text_41">
<text style="font-size: 10px; font-family: 'DejaVu Sans', sans-serif; text-anchor: start; fill: #ff0000" x="655" y="93.419988" transform="rotate(-0 655 93.419988)">100</text>
</g>
</g>
<g id="ytick_24">
<g id="line2d_60">
<g>
<use href="#m59909c4edb" x="648" y="63.379644" style="stroke: #000000; stroke-width: 0.8"/>
</g>
</g>
<g id="text_42">
<text style="font-size: 10px; font-family: 'DejaVu Sans', sans-serif; text-anchor: start; fill: #ff0000" x="655" y="67.178863" transform="rotate(-0 655 67.178863)">120</text>
</g>
</g>
<g id="text_43">
<text style="font-size: 10px; font-family: 'DejaVu Sans', sans-serif; text-anchor: middle; fill: #ff0000" x="685.685937" y="144.845217" transform="rotate(-90 685.685937 144.845217)">Flux (e-/s)</text>
</g>
</g>
<g id="line2d_61">
<path d="M 430.497983 220.661977 L 448.529353 220.714242 L 451.665243 220.818772 L 459.50497 221.445953 L 461.595563 221.289158 L 465.515426 220.034796 L 467.344696 219.721206 L 472.048531 219.459881 L 473.616477 219.35535 L 475.70707 219.459881 L 477.013691 219.35535 L 478.320312 218.8327 L 482.240175 216.585302 L 483.546796 215.958121 L 484.853417 214.390169 L 486.160038 211.51559 L 488.77328 204.982457 L 490.079902 202.630529 L 491.386523 201.062577 L 492.954468 199.494625 L 494.522413 198.187998 L 495.829034 197.299492 L 497.135655 196.620046 L 498.180952 195.574745 L 499.487573 193.484142 L 500.794194 191.132214 L 502.100815 189.198407 L 504.975381 186.428358 L 506.282002 184.337756 L 507.588623 181.985828 L 508.895244 179.895225 L 510.201865 178.065948 L 511.769811 176.23667 L 513.337756 174.146068 L 514.383053 172.31679 L 516.996295 165.783657 L 518.302916 163.170404 L 522.222779 156.375945 L 523.5294 153.762691 L 526.142642 147.229558 L 530.062505 136.922887 L 531.897001 133.075133 L 534.510243 126.359072 L 535.424878 123.223168 L 536.862161 116.690034 L 538.168782 110.940877 L 539.083416 108.327623 L 542.219307 101.010514 L 544.571225 92.909429 L 549.091088 83.704505 L 550.240915 81.822963 L 551.495271 80.359541 L 552.749627 79.105179 L 554.003983 77.432697 L 558.080641 70.742769 L 559.230467 69.070286 L 560.066705 68.275857 L 560.589353 68.129515 L 561.216531 68.756696 L 561.948239 70.011058 L 563.411655 76.387396 L 565.920367 87.885711 L 568.529428 97.724087 L 569.574725 102.950593 L 573.755912 127.515175 L 577.153127 146.706907 L 578.721072 157.682571 L 581.856962 180.15655 L 582.640935 184.860406 L 584.20888 191.91619 L 587.867419 205.243782 L 589.17404 209.424988 L 590.480661 212.038241 L 591.787282 213.188073 L 593.093903 213.710723 L 594.400524 214.390169 L 597.013766 216.480772 L 598.320387 217.107953 L 599.627008 217.369278 L 601.456278 217.578338 L 606.160113 219.198555 L 607.728059 219.407616 L 611.909246 219.616676 L 618.181027 220.400652 L 620.794269 220.557447 L 629.156643 220.609712 L 637.519018 220.609712 L 637.519018 220.609712 
" clip-path="url(#pb873f80240)" style="fill: none; stroke: #ff0000; stroke-width: 1.5; stroke-linecap: square"/>
</g>
<g id="patch_19">
<path d="M 420.244898 229.210435 L 420.244898 60.48 
" style="fill: none; stroke: #000000; stroke-width: 0.8; stroke-linejoin: miter; stroke-linecap: square"/>
</g>
<g id="patch_20">
<path d="M 648 229.210435 L 648 60.48 
" style="fill: none; stroke: #000000; stroke-width: 0.8; stroke-linejoin: miter; stroke-linecap: square"/>
</g>
<g id="patch_21">
<path d="M 420.244898 229.210435 L 648 229.210435 
" style="fill: none; stroke: #000000; stroke-width: 0.8; stroke-linejoin: miter; stroke-linecap: square"/>
</g>
<g id="patch_22">
<path d="M 420.244898 60.48 L 648 60.48 
" style="fill: none; stroke: #000000; stroke-width: 0.8; stroke-linejoin: miter; stroke-linecap: square"/>
</g>
<g id="legend_4">
<g id="patch_23">
<path d="M 596.021875 83.158125 L 641 83.158125 Q 643 83.158125 643 81.158125 L 643 67.48 Q 643 65.48 641 65.48 L 596.021875 65.48 Q 594.021875 65.48 594.021875 67.48 L 594.021875 81.158125 Q 594.021875 83.158125 596.021875 83.158125 z
" style="fill: #ffffff; opacity: 0.8; stroke: #cccccc; stroke-linejoin: miter"/>
</g>
<g id="line2d_62">
<path d="M 598.021875 73.578438 L 608.021875 73.578438 L 618.021875 73.578438 
" style="fill: none; stroke: #ff0000; stroke-width: 1.5; stroke-linecap: square"/>
</g>
<g id="text_44">
<text style="font-size: 10px; font-family: 'DejaVu Sans', sans-serif; text-anchor: start" x="626.021875" y="77.078438" transform="rotate(-0 626.021875 77.078438)">RP</text>
</g>
</g>
</g>
<g id="axes_5">
<g id="patch_24">
<path d="M 90 448.56 L 648 448.56 L 648 279.829565 L 90 279.829565 z
" style="fill: #ffffff"/>
</g>
<g id="matplotlib.axis_7">
<g id="xtick_9">
<g id="line2d_63">
<g>
<use href="#m22d8541378" x="94.227273" y="448.56" style="stroke: #000000; stroke-width: 0.8"/>
</g>
</g>
<g id="text_45">
<text style="font-size: 10px; font-family: 'DejaVu Sans', sans-serif; text-anchor: middle" x="94.227273" y="463.328438" transform="rotate(-0 94.227273 463.328438)">300</text>
</g>
</g>
<g id="xtick_10">
<g id="line2d_64">
<g>
<use href="#m22d8541378" x="164.681818" y="448.56" style="stroke: #000000; stroke-width: 0.8"/>
</g>
</g>
<g id="text_46">
<text style="font-size: 10px; font-family: 'DejaVu Sans', sans-serif; text-anchor: middle" x="164.681818" y="463.328438" transform="rotate(-0 164.681818 463.328438)">400</text>
</g>
</g>
<g id="xtick_11">
<g id="line2d_65">
<g>
<use href="#m22d8541378" x="235.136364" y="448.56" style="stroke: #000000; stroke-width: 0.8"/>
</g>
</g>
<g id="text_47">
<text style="font-size: 10px; font-family: 'DejaVu Sans', sans-serif; text-anchor: middle" x="235.136364" y="463.328438" transform="rotate(-0 235.136364 463.328438)">500</text>
</g>
</g>
<g id="xtick_12">
<g id="line2d_66">
<g>
<use href="#m22d8541378" x="305.590909" y="448.56" style="stroke: #000000; stroke-width: 0.8"/>
</g>
</g>
<g id="text_48">
<text style="font-size: 10px; font-family: 'DejaVu Sans', sans-serif; text-anchor: middle" x="305.590909" y="463.328438" transform="rotate(-0 305.590909 463.328438)">600</text>
</g>
</g>
<g id="xtick_13">
<g id="line2d_67">
<g>
<use href="#m22d8541378" x="376.045455" y="448.56" style="stroke: #000000; stroke-width: 0.8"/>
</g>
</g>
<g id="text_49">
<text style="font-size: 10px; font-family: 'DejaVu Sans', sans-serif; text-anchor: middle" x="376.045455" y="463.328438" transform="rotate(-0 376.045455 463.328438)">700</text>
</g>
</g>
<g id="xtick_14">
<g id="line2d_68">
<g>
<use href="#m22d8541378" x="446.5" y="448.56" style="stroke: #000000; stroke-width: 0.8"/>
</g>
</g>
<g id="text_50">
<text style="font-size: 10px; font-family: 'DejaVu Sans', sans-serif; text-anchor: middle" x="446.5" y="463.328438" transform="rotate(-0 446.5 463.328438)">800</text>
</g>
</g>
<g id="xtick_15">
<g id="line2d_69">
<g>
<use href="#m22d8541378" x="516.954545" y="448.56" style="stroke: #000000; stroke-width: 0.8"/>
</g>
</g>
<g id="text_51">
<text style="font-size: 10px; font-family: 'DejaVu Sans', sans-serif; text-anchor: middle" x="516.954545" y="463.328438" transform="rotate(-0 516.954545 463.328438)">900</text>
</g>
</g>
<g id="xtick_16">
<g id="line2d_70">
<g>
<use href="#m22d8541378" x="587.409091" y="448.56" style="stroke: #000000; stroke-width: 0.8"/>
</g>
</g>
<g id="text_52">
<text style="font-size: 10px; font-family: 'DejaVu Sans', sans-serif; text-anchor: middle" x="587.409091" y="463.328438" transform="rotate(-0 587.409091 463.328438)">1000</text>
</g>
</g>
<g id="text_53">
<text style="font-size: 10px; font-family: 'DejaVu Sans', sans-serif; text-anchor: middle" x="369" y="477.506563" transform="rotate(-0 369 477.506563)">Wavelength (nm)</text>
</g>
</g>
<g id="matplotlib.axis_8">
<g id="ytick_25">
<g id="line2d_71">
<g>
<use href="#md354d0686e" x="90" y="441.215964" style="stroke: #000000; stroke-width: 0.8"/>
</g>
</g>
<g id="text_54">
<text style="font-size: 10px; font-family: 'DejaVu Sans', sans-serif; text-anchor: end; fill: #008000" x="83" y="445.015182" transform="rotate(-0 83 445.015182)">0.0</text>
</g>
</g>
<g id="ytick_26">
<g id="line2d_72">
<g>
<use href="#md354d0686e" x="90" y="412.055819" style="stroke: #000000; stroke-width: 0.8"/>
</g>
</g>
<g id="text_55">
<text style="font-size: 10px; font-family: 'DejaVu Sans', sans-serif; text-anchor: end; fill: #008000" x="83" y="415.855038" transform="rotate(-0 83 415.855038)">0.5</text>
</g>
</g>
<g id="ytick_27">
<g id="line2d_73">
<g>
<use href="#md354d0686e" x="90" y="382.895675" style="stroke: #000000; stroke-width: 0.8"/>
</g>
</g>
<g id="text_56">
<text style="font-size: 10px; font-family: 'DejaVu Sans', sans-serif; text-anchor: end; fill: #008000" x="83" y="386.694894" transform="rotate(-0 83 386.694894)">1.0</text>
</g>
</g>
<g id="ytick_28">
<g id="line2d_74">
<g>
<use href="#md354d0686e" x="90" y="353.735531" style="stroke: #000000; stroke-width: 0.8"/>
</g>
</g>
<g id="text_57">
<text style="font-size: 10px; font-family: 'DejaVu Sans', sans-serif; text-anchor: end; fill: #008000" x="83" y="357.53475" transform="rotate(-0 83 357.53475)">1.5</text>
</g>
</g>
<g id="ytick_29">
<g id="line2d_75">
<g>
<use href="#md354d0686e" x="90" y="324.575387" style="stroke: #000000; stroke-width: 0.8"/>
</g>
</g>
<g id="text_58">
<text style="font-size: 10px; font-family: 'DejaVu Sans', sans-serif; text-anchor: end; fill: #008000" x="83" y="328.374605" transform="rotate(-0 83 328.374605)">2.0</text>
</g>
</g>
<g id="ytick_30">
<g id="line2d_76">
<g>
<use href="#md354d0686e" x="90" y="295.415242" style="stroke: #000000; stroke-width: 0.8"/>
</g>
</g>
<g id="text_59">
<text style="font-size: 10px; font-family: 'DejaVu Sans', sans-serif; text-anchor: end; fill: #008000" x="83" y="299.214461" transform="rotate(-0 83 299.214461)">2.5</text>
</g>
</g>
<g id="text_60">
<g style="fill: #008000" transform="translate(60.867187 418.594783) rotate(-90)">
<text style="white-space: pre" xml:space="preserve"><tspan x="0 5.751953 8.530273 14.868164 20.786133 23.964844 27.866211 37.753906 40.932617 45.932617 49.111328" y="-0.976562" style="font-size: 10px; font-family: 'DejaVu Sans', sans-serif; fill: #008000">Flux (W * m</tspan><tspan x="58.948242" y="-4.804688" style="font-size: 7px; font-family: 'DejaVu Sans', sans-serif; fill: #008000">2</tspan><tspan x="63.675293 66.854004 71.854004 75.032715 81.370605" y="-0.976562" style="font-size: 10px; font-family: 'DejaVu Sans', sans-serif; fill: #008000"> * nm</tspan><tspan x="92.571289 100.169434" y="-4.804688" style="font-size: 7px; font-family: 'DejaVu Sans', sans-serif; fill: #008000">−1</tspan><tspan x="104.896484" y="-0.976562" style="font-size: 10px; font-family: 'DejaVu Sans', sans-serif; fill: #008000">)</tspan></text>
</g>
</g>
<g id="text_61">
<text style="font-size: 10px; font-family: 'DejaVu Sans', sans-serif; text-anchor: start" x="90" y="276.829565" transform="rotate(-0 90 276.829565)">1e−17</text>
</g>
</g>
<g id="line2d_77">
<path d="M 115.238885 287.37746 L 115.604739 328.144213 L 116.246551 387.474471 L 116.545505 387.985624 L 116.911359 398.438637 L 117.48 403.474663 L 117.84 407.828674 L 118.2 415.050872 L 118.92 421.202958 L 119.64 424.960214 L 120.36 427.266301 L 121.44 429.453002 L 122.52 430.89212 L 123.6 431.899065 L 124.32 432.347441 L 125.4 432.710351 L 126.12 432.786886 L 127.56 432.607476 L 129.72 431.832501 L 131.16 431.452864 L 132.24 431.358034 L 133.32 431.54342 L 134.04 431.827528 L 136.56 433.520626 L 138 433.821428 L 139.08 433.792164 L 140.52 433.570738 L 145.56 432.239347 L 147.36 432.145079 L 150.24 431.969295 L 151.68 431.925911 L 152.76 432.029924 L 154.2 432.605709 L 155.64 433.529051 L 158.16 435.247496 L 159.6 435.968005 L 161.04 436.384298 L 163.92 437.103065 L 165.36 437.541381 L 167.88 438.096654 L 169.68 438.128722 L 170.76 438.016046 L 171.48 438.156865 L 172.92 438.582581 L 173.64 438.545204 L 175.44 438.26807 L 176.52 438.470423 L 178.32 438.877855 L 184.08 438.936022 L 185.88 438.642115 L 186.96 438.716206 L 189.12 439.012221 L 191.64 438.934525 L 194.52 439.422071 L 197.76 439.385339 L 199.56 439.639498 L 203.16 439.535284 L 204.96 439.723781 L 207.84 439.577336 L 210 439.53194 L 213.96 439.783073 L 218.28 439.685146 L 221.16 439.931439 L 227.28 439.948671 L 229.8 440.016543 L 235.2 440.111351 L 238.08 440.183791 L 251.04 440.289709 L 267.96 440.452105 L 324.12 440.657855 L 332.4 440.604079 L 334.56 440.013698 L 335.64 439.858438 L 354 439.927582 L 392.16 440.10853 L 499.44 440.000423 L 539.4 439.498969 L 558.12 438.910763 L 562.08 438.664635 L 577.56 437.838791 L 580.8 437.32423 L 584.04 436.740804 L 589.08 436.044597 L 591.24 435.406789 L 593.04 434.719474 L 600.96 431.134253 L 602.4 430.112304 L 603.84 428.802524 L 604.92 427.543339 L 605.64 426.504187 L 608.88 421.145966 L 609.96 419.800606 L 611.4 418.611805 L 613.2 417.075292 L 614.28 415.682939 L 615 414.381182 L 615.72 412.57051 L 616.44 410.085715 L 617.52 404.937783 L 618.6 398.410587 L 620.04 387.798295 L 621.12 380.491283 L 621.48 378.639556 L 622.123902 376.905429 L 622.123902 376.905429 
" clip-path="url(#pcd2f8926bb)" style="fill: none; stroke-dasharray: 5.55,2.4; stroke-dashoffset: 0; stroke: #008000; stroke-width: 1.5"/>
</g>
<g id="patch_25">
<path d="M 90 448.56 L 90 279.829565 
" style="fill: none; stroke: #000000; stroke-width: 0.8; stroke-linejoin: miter; stroke-linecap: square"/>
</g>
<g id="patch_26">
<path d="M 648 448.56 L 648 279.829565 
" style="fill: none; stroke: #000000; stroke-width: 0.8; stroke-linejoin: miter; stroke-linecap: square"/>
</g>
<g id="patch_27">
<path d="M 90 448.56 L 648 448.56 
" style="fill: none; stroke: #000000; stroke-width: 0.8; stroke-linejoin: miter; stroke-linecap: square"/>
</g>
<g id="patch_28">
<path d="M 90 279.829565 L 648 279.829565 
" style="fill: none; stroke: #000000; stroke-width: 0.8; stroke-linejoin: miter; stroke-linecap: square"/>
</g>
<g id="text_62">
<text style="font-size: 12px; font-family: 'DejaVu Sans', sans-serif; text-anchor: middle" x="369" y="273.829565" transform="rotate(-0 369 273.829565)">Calibrated Flux</text>
</g>
<g id="legend_5" transform="translate(0 -0.3)">
<g id="patch_29">
<path d="M 558.84375 443.56 L 641 443.56 Q 643 443.56 643 441.56 L 643 427.60375 Q 643 425.60375 641 425.60375 L 558.84375 425.60375 Q 556.84375 425.60375 556.84375 427.60375 L 556.84375 441.56 Q 556.84375 443.56 558.84375 443.56 z
" style="fill: #ffffff; opacity: 0.8; stroke: #cccccc; stroke-linejoin: miter"/>
</g>
<g id="line2d_78">
<path d="M 560.84375 433.702188 L 570.84375 433.702188 L 580.84375 433.702188 
" style="fill: none; stroke-dasharray: 5.55,2.4; stroke-dashoffset: 0; stroke: #008000; stroke-width: 1.5"/>
</g>
<g id="text_63">
<text style="font-size: 10px; font-family: 'DejaVu Sans', sans-serif; text-anchor: start" x="588.84375" y="437.202188" transform="rotate(-0 588.84375 437.202188)">Flux_Error</text>
</g>
</g>
</g>
<g id="axes_6">
<g id="matplotlib.axis_9">
<g id="ytick_31">
<g id="line2d_79">
<g>
<use href="#m59909c4edb" x="648" y="412.407248" style="stroke: #000000; stroke-width: 0.8"/>
</g>
</g>
<g id="text_64">
<text style="font-size: 10px; font-family: 'DejaVu Sans', sans-serif; text-anchor: start" x="655" y="416.206467" transform="rotate(-0 655 416.206467)">−1</text>
</g>
</g>
<g id="ytick_32">
<g id="line2d_80">
<g>
<use href="#m59909c4edb" x="648" y="370.952732" style="stroke: #000000; stroke-width: 0.8"/>
</g>
</g>
<g id="text_65">
<text style="font-size: 10px; font-family: 'DejaVu Sans', sans-serif; text-anchor: start" x="655" y="374.751951" transform="rotate(-0 655 374.751951)">0</text>
</g>
</g>
<g id="ytick_33">
<g id="line2d_81">
<g>
<use href="#m59909c4edb" x="648" y="329.498217" style="stroke: #000000; stroke-width: 0.8"/>
</g>
</g>
<g id="text_66">
<text style="font-size: 10px; font-family: 'DejaVu Sans', sans-serif; text-anchor: start" x="655" y="333.297435" transform="rotate(-0 655 333.297435)">1</text>
</g>
</g>
<g id="ytick_34">
<g id="line2d_82">
<g>
<use href="#m59909c4edb" x="648" y="288.043701" style="stroke: #000000; stroke-width: 0.8"/>
</g>
</g>
<g id="text_67">
<text style="font-size: 10px; font-family: 'DejaVu Sans', sans-serif; text-anchor: start" x="655" y="291.84292" transform="rotate(-0 655 291.84292)">2</text>
</g>
</g>
<g id="text_68">
<g transform="translate(683.2425 418.594783) rotate(-90)">
<text style="white-space: pre" xml:space="preserve"><tspan x="0 5.751953 8.530273 14.868164 20.786133 23.964844 27.866211 37.753906 40.932617 45.932617 49.111328" y="-0.976562" style="font-size: 10px; font-family: 'DejaVu Sans', sans-serif">Flux (W * m</tspan><tspan x="58.948242" y="-4.804688" style="font-size: 7px; font-family: 'DejaVu Sans', sans-serif">2</tspan><tspan x="63.675293 66.854004 71.854004 75.032715 81.370605" y="-0.976562" style="font-size: 10px; font-family: 'DejaVu Sans', sans-serif"> * nm</tspan><tspan x="92.571289 100.169434" y="-4.804688" style="font-size: 7px; font-family: 'DejaVu Sans', sans-serif">−1</tspan><tspan x="104.896484" y="-0.976562" style="font-size: 10px; font-family: 'DejaVu Sans', sans-serif">)</tspan></text>
</g>
</g>
<g id="text_69">
<text style="font-size: 10px; font-family: 'DejaVu Sans', sans-serif; text-anchor: end" x="648" y="276.829565" transform="rotate(-0 648 276.829565)">1e−17</text>
</g>
</g>
<g id="line2d_83">
<path d="M 115.368 440.759961 L 115.704 438.119948 L 115.944 434.279929 L 116.088 429.479906 L 116.024948 425.079187 L 117.698258 361.339181 L 118.178258 355.23158 L 118.418258 354.229494 L 118.658258 353.974356 L 118.898258 354.22407 L 119.138258 355.03013 L 119.378258 356.885452 L 121.058258 376.807094 L 121.298258 378.171497 L 121.538258 378.834247 L 121.778258 378.912649 L 122.018258 378.323898 L 122.258258 377.156218 L 122.738258 372.86078 L 123.458258 366.001698 L 123.938258 363.475924 L 124.418258 362.819888 L 124.658258 362.807871 L 124.898258 363.06481 L 125.138258 363.535603 L 125.618258 366.388764 L 126.578258 375.377358 L 127.298258 381.79546 L 127.778258 383.99937 L 128.018258 384.058613 L 128.258258 383.419555 L 128.498258 382.246037 L 129.218258 375.385531 L 130.178258 366.084203 L 130.658258 364.103477 L 130.898258 363.757239 L 131.138258 363.64724 L 131.378258 363.820738 L 131.618258 364.174781 L 131.858258 365.204382 L 132.338258 368.962859 L 133.538258 380.770844 L 134.018258 383.54107 L 134.258258 384.135002 L 134.498258 384.124433 L 134.738258 383.703002 L 134.978258 383.052931 L 135.698258 378.858238 L 136.658258 373.160504 L 137.138258 371.370998 L 137.618258 370.351792 L 138.338258 369.44316 L 139.538258 368.193022 L 140.018258 367.410896 L 141.458258 364.435638 L 141.938258 363.943969 L 142.418258 363.774503 L 142.898258 364.079202 L 143.138258 364.453925 L 143.858258 366.935576 L 145.778258 374.980523 L 146.258258 375.665549 L 146.498258 375.78714 L 146.738258 375.713996 L 147.218258 375.03718 L 147.698258 373.574162 L 149.378258 368.171691 L 149.858258 367.486445 L 150.338258 367.180019 L 150.578258 367.200082 L 151.058258 367.555692 L 151.778258 368.349448 L 152.738258 369.354611 L 154.898258 371.257616 L 155.618258 372.58338 L 156.578258 374.834495 L 157.538258 377.156543 L 158.018258 377.93312 L 158.498258 378.384524 L 158.738258 378.384101 L 159.218258 378.013697 L 159.458258 377.734736 L 159.938258 376.62992 L 162.578258 369.261738 L 163.058258 368.598143 L 163.538258 368.373041 L 163.778258 368.34641 L 164.018258 368.454026 L 164.738258 369.2413 L 165.698258 370.825821 L 166.898258 372.90896 L 167.618258 373.371132 L 168.098258 373.41734 L 168.578258 373.069533 L 169.778258 371.771598 L 170.978258 370.561017 L 171.698258 370.223851 L 172.178258 370.190013 L 172.898258 370.484525 L 173.618258 370.959036 L 175.058258 372.017876 L 175.778258 372.186682 L 176.258258 372.042467 L 176.978258 371.520714 L 177.938258 370.340259 L 179.858258 367.866623 L 180.578258 367.563838 L 181.058258 367.706653 L 181.778258 368.321679 L 182.738258 369.863158 L 184.658258 373.359091 L 185.138258 373.886932 L 185.858258 374.21645 L 186.338258 374.272313 L 186.818258 374.078658 L 187.298258 373.713171 L 187.778258 372.959413 L 190.418258 368.222376 L 190.898258 367.727128 L 191.618258 367.419717 L 192.098258 367.397812 L 192.818258 367.756621 L 193.298258 368.195465 L 194.738258 370.292934 L 196.178258 372.278482 L 196.898258 372.951255 L 197.618258 373.230063 L 198.098258 373.124995 L 198.818258 372.67483 L 199.538258 371.834679 L 200.978258 369.864997 L 202.178258 368.296312 L 202.898258 367.667409 L 203.618258 367.390036 L 204.098258 367.440935 L 204.818258 367.82842 L 205.298258 368.285902 L 206.738258 370.265252 L 208.418258 372.641865 L 209.378258 373.568874 L 210.098258 374.019502 L 210.818258 374.173011 L 211.538258 374.036512 L 212.018258 373.767616 L 212.978258 372.830722 L 216.338258 368.98034 L 217.298258 368.285261 L 218.018258 368.101249 L 218.738258 368.144795 L 219.458258 368.384563 L 220.898258 369.344179 L 224.258258 371.657913 L 225.458258 371.949059 L 226.178258 371.872326 L 227.378258 371.407928 L 228.338258 370.877217 L 230.738258 369.406844 L 231.938258 368.892771 L 233.138258 368.580798 L 234.338258 368.503013 L 235.298258 368.756488 L 236.978258 369.444442 L 240.098258 370.927809 L 241.538258 371.281192 L 243.458258 371.348221 L 244.898258 371.083506 L 246.338258 370.674884 L 250.658258 369.340406 L 252.578258 369.153875 L 254.978258 369.276256 L 261.458258 370.024975 L 263.858258 369.958064 L 266.258258 369.697792 L 273.458258 368.689927 L 277.538258 368.458751 L 285.218258 368.0888 L 300.098258 366.961866 L 319.778258 366.228564 L 329.138258 365.342033 L 331.538258 365.265795 L 333.458258 365.629439 L 335.138258 365.919204 L 336.098258 365.903057 L 337.298258 365.484012 L 339.938258 364.44003 L 340.658258 364.42444 L 341.858258 364.679668 L 342.818258 365.134774 L 344.258258 365.816366 L 345.218258 366.089288 L 346.418258 366.137529 L 347.138258 365.910081 L 348.098258 365.43368 L 349.778258 364.131399 L 350.738258 363.377598 L 351.698258 363.047806 L 352.418258 362.987626 L 353.618258 363.177412 L 354.338258 363.42454 L 356.018258 364.136251 L 356.978258 364.387213 L 358.418258 364.399443 L 359.378258 364.209286 L 361.058258 363.654934 L 363.698258 362.695667 L 365.378258 362.453292 L 371.858258 361.945239 L 373.058258 361.996044 L 374.738258 362.349729 L 376.418258 362.793266 L 378.098258 362.98183 L 379.058258 362.889774 L 380.258258 362.591219 L 381.458258 361.969923 L 384.338258 360.471274 L 385.298258 360.173642 L 386.258258 360.138796 L 387.938258 360.238975 L 391.538258 360.759645 L 392.978258 360.697263 L 395.138258 360.323329 L 396.578258 360.095965 L 397.778258 360.071488 L 400.418258 360.421983 L 401.858258 360.473292 L 403.298258 360.419032 L 404.738258 359.97044 L 406.658258 359.141082 L 409.298258 358.045994 L 410.258258 357.840773 L 411.938258 357.889466 L 413.858258 358.617971 L 414.818258 358.909174 L 416.498258 359.108198 L 417.458258 359.038958 L 418.898258 358.714755 L 420.818258 357.905294 L 422.738258 357.224739 L 424.418258 357.022314 L 425.378258 357.092437 L 427.298258 357.532466 L 428.738258 357.876521 L 430.658258 358.023106 L 431.618258 357.882315 L 433.058258 357.402401 L 434.258258 356.739627 L 438.098258 354.532894 L 439.058258 354.211762 L 440.738258 354.011365 L 441.698258 354.079944 L 443.378258 354.48036 L 446.018258 355.387069 L 447.218258 355.574338 L 449.138258 355.629189 L 450.578258 355.37994 L 451.778258 355.016313 L 457.538258 352.841686 L 458.738258 352.668043 L 460.898258 352.670704 L 466.178258 353.131083 L 467.858258 353.014168 L 469.538258 352.722209 L 471.938258 352.001583 L 474.338258 351.332219 L 476.258258 351.082317 L 478.658258 351.189789 L 482.978258 351.652221 L 484.898258 351.618475 L 486.818258 351.245642 L 489.218258 350.448391 L 493.778258 348.874717 L 495.458258 348.603449 L 497.858258 348.518405 L 500.258258 348.276016 L 502.178258 347.821778 L 503.858258 347.181453 L 505.298258 346.442499 L 505.778258 346.153712 L 508.68 344.726873 L 510.352474 343.681572 L 512.024948 342.845331 L 513.697422 342.343586 L 515.578955 342.301774 L 517.460488 342.719894 L 521.223554 344.392377 L 523.314146 345.144994 L 524.98662 345.437678 L 526.659094 345.437678 L 528.749686 344.935933 L 535.021463 342.42721 L 536.693937 341.925465 L 538.78453 341.674593 L 541.29324 341.632781 L 546.72878 341.800029 L 556.763624 340.838352 L 558.854216 340.880164 L 563.035401 341.131036 L 565.125993 340.963788 L 567.216585 340.211171 L 569.307178 338.873186 L 570.979652 337.409764 L 572.234007 336.573523 L 573.488362 335.110101 L 574.742718 334.064799 L 575.997073 332.810438 L 577.251429 331.974197 L 578.296725 331.137956 L 580.387317 330.385339 L 581.641672 330.385339 L 582.896028 330.719835 L 584.359443 331.556076 L 585.613798 332.810438 L 586.868153 334.27386 L 589.376864 337.618824 L 590.63122 339.500366 L 591.885575 340.963788 L 593.13993 342.21815 L 594.477909 342.845331 L 595.648641 342.42721 L 596.693937 341.381909 L 597.6 340.679466 L 599.064 337.39145 L 600.312 333.623431 L 602.537143 324.581826 L 604.826341 313.606162 L 606.237491 305.766402 L 607.272334 300.748955 L 608.338537 294.38307 L 610.721812 287.51544 L 612.038885 287.891749 L 613.042369 288.769802 L 614.390801 294.477147 L 615.425645 301.062546 L 616.272334 308.902306 L 617.52669 324.581826 L 617.997073 331.073147 L 620.242369 367.079597 L 622.489756 413.125121 L 622.489756 413.125121 
" clip-path="url(#pcd2f8926bb)" style="fill: none; stroke: #000000; stroke-width: 1.5; stroke-linecap: square"/>
</g>
<g id="patch_30">
<path d="M 90 448.56 L 90 279.829565 
" style="fill: none; stroke: #000000; stroke-width: 0.8; stroke-linejoin: miter; stroke-linecap: square"/>
</g>
<g id="patch_31">
<path d="M 648 448.56 L 648 279.829565 
" style="fill: none; stroke: #000000; stroke-width: 0.8; stroke-linejoin: miter; stroke-linecap: square"/>
</g>
<g id="patch_32">
<path d="M 90 448.56 L 648 448.56 
" style="fill: none; stroke: #000000; stroke-width: 0.8; stroke-linejoin: miter; stroke-linecap: square"/>
</g>
<g id="patch_33">
<path d="M 90 279.829565 L 648 279.829565 
" style="fill: none; stroke: #000000; stroke-width: 0.8; stroke-linejoin: miter; stroke-linecap: square"/>
</g>
<g id="legend_6" transform="translate(0 -0.3)">
<g id="patch_34">
<path d="M 97 443.56 L 149.785937 443.56 Q 151.785937 443.56 151.785937 441.56 L 151.785937 427.881875 Q 151.785937 425.881875 149.785937 425.881875 L 97 425.881875 Q 95 425.881875 95 427.881875 L 95 441.56 Q 95 443.56 97 443.56 z
" style="fill: #ffffff; opacity: 0.8; stroke: #cccccc; stroke-linejoin: miter"/>
</g>
<g id="line2d_84">
<path d="M 99 433.980313 L 109 433.980313 L 119 433.980313 
" style="fill: none; stroke: #000000; stroke-width: 1.5; stroke-linecap: square"/>
</g>
<g id="text_70">
<text style="font-size: 10px; font-family: 'DejaVu Sans', sans-serif; text-anchor: start" x="127" y="437.480313" transform="rotate(-0 127 437.480313)">Flux</text>
</g>
</g>
</g>
</g>
<defs>
<clipPath id="p5c25ae56bd">
<rect x="90" y="60.48" width="227.755102" height="168.730435"/>
</clipPath>
<clipPath id="pb873f80240">
<rect x="420.244898" y="60.48" width="227.755102" height="168.730435"/>
</clipPath>
<clipPath id="pcd2f8926bb">
<rect x="90" y="279.829565" width="558" height="168.730435"/>
</clipPath>
</defs>
</g></svg>

</body></html>
